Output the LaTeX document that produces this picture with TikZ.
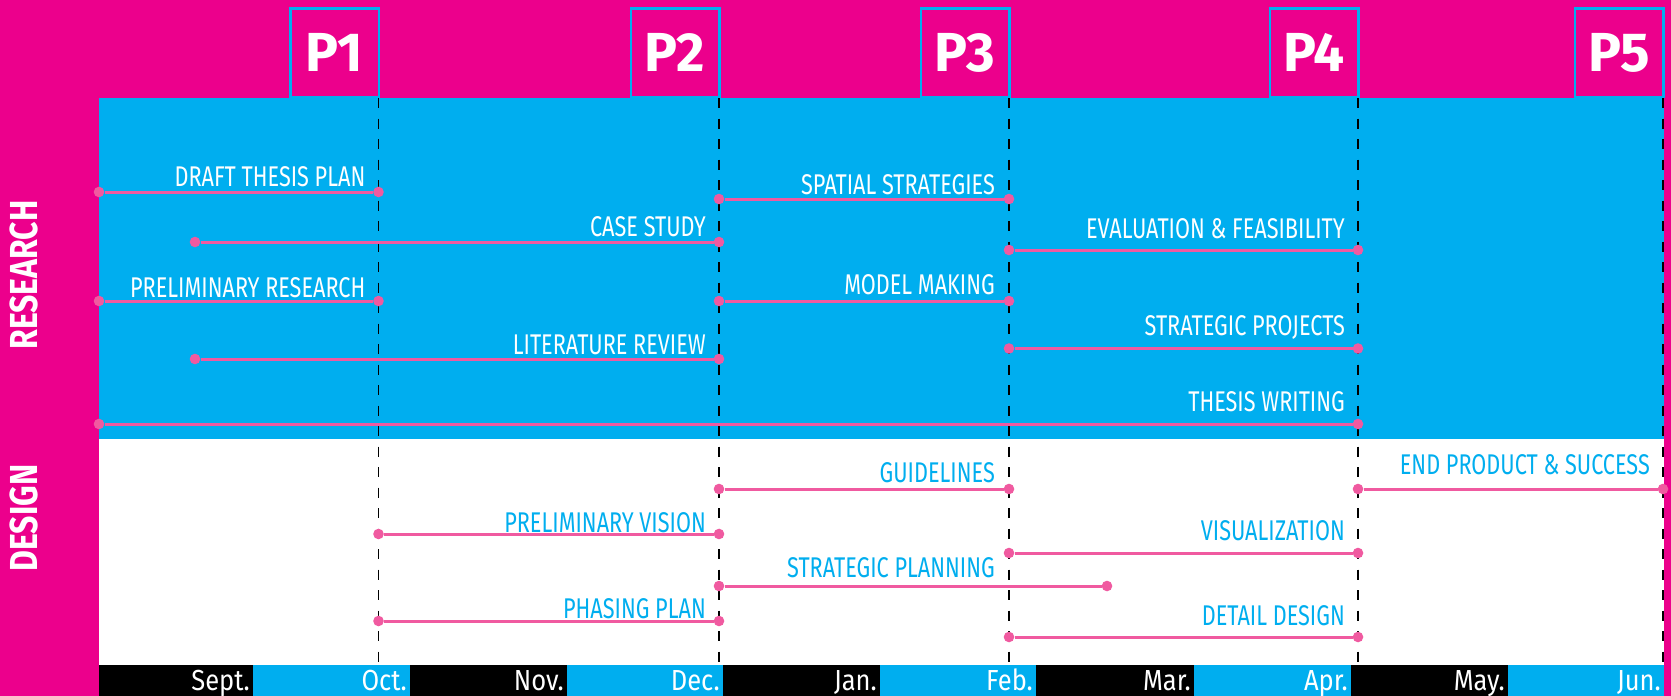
\documentclass[tikz,border=0pt]{standalone}
\usepackage{fontspec}
\setmainfont{Fira Sans}
\newfontfamily\condf{Fira Sans}[FakeStretch=0.76]
\newfontfamily\monf{Fira Sans}[FakeStretch=0.88]
\newfontfamily\boldf{Fira Sans}[FakeStretch=0.82]
\newfontfamily\pf{Fira Sans}
\definecolor{mag}{HTML}{EC008C}
\definecolor{sky}{HTML}{00AEEF}
\definecolor{barpink}{HTML}{F05AA0}
\begin{document}
\begin{tikzpicture}[x=1pt,y=-1pt,
 dotnode/.style={circle,fill=barpink,inner sep=0pt,minimum size=10.6pt},
 bar/.style={draw=barpink,line width=3pt},
 phase/.style={draw=black,line width=1.3pt,dash pattern=on 10pt off 10.5pt},
 pbox/.style={draw=sky,line width=2.5pt,fill=mag,minimum width=88.5pt,minimum height=88.5pt,inner sep=0pt,text=white,font=\pf\bfseries\fontsize{55}{55}\selectfont},
 rlbl/.style={anchor=base east,inner sep=0pt,text=white,font=\condf\fontsize{28.5}{29}\selectfont},
 dlbl/.style={rlbl,text=sky},
 month/.style={anchor=base east,inner sep=0pt,text=white,font=\monf\fontsize{29}{29}\selectfont},
 side/.style={rotate=90,text=white,inner sep=0pt,font=\boldf\bfseries\fontsize{39}{39}\selectfont}
]
\useasboundingbox (0,0) rectangle (1671,696);
\fill[mag] (0,0) rectangle (1671,696);
\fill[sky] (99,98) rectangle (1664,439);
\fill[white] (99,439) rectangle (1664,665);
% months
\foreach \m/\xl/\xr [count=\k from 0] in {Sept./99/253,Oct./253/410,Nov./410/567,Dec./567/723,Jan./723/880,Feb./880/1036,Mar./1036/1194,Apr./1194/1351,May./1351/1508,Jun./1508/1664}{
  \ifodd\k \def\cc{sky}\else\def\cc{black}\fi
  \fill[\cc] (\xl,665) rectangle (\xr,696);
  \node[month] (m\k) at (\xr-3,690) {\m};
}
% side labels
\node[side] (research) at (24,275) {RESEARCH};
\node[side] (design) at (24,518) {DESIGN};
% phases
\foreach \i/\x in {1/378.5,2/719,3/1009,4/1358,5/1663}{
  \node[pbox] (P\i) at (\x-44,52.5) {P\i};
  \coordinate (t\i) at (\x,98);
  \coordinate (u\i) at (\x,665);
  \draw[phase] (t\i) -- (u\i);
}
% tasks
\foreach \i/\t/\y/\xa/\xb/\xl/\bl/\st in {
  1/DRAFT THESIS PLAN/192/99/378.5/365.5/186/rlbl,
  2/CASE STUDY/242/195/719/706/236/rlbl,
  3/PRELIMINARY RESEARCH/301/99/378.5/365.5/297/rlbl,
  4/LITERATURE REVIEW/359/195/719/706/354/rlbl,
  5/THESIS WRITING/424/99/1358/1345/411.5/rlbl,
  6/SPATIAL STRATEGIES/199/719/1009/995/194/rlbl,
  7/EVALUATION \& FEASIBILITY/250/1009/1358/1345/238.5/rlbl,
  8/MODEL MAKING/301/719/1009/995/294/rlbl,
  9/STRATEGIC PROJECTS/348.5/1009/1358/1345/335.5/rlbl,
  10/GUIDELINES/489/719/1009/995/482/dlbl,
  11/END PRODUCT \& SUCCESS/489/1358/1663/1650/474/dlbl,
  12/PRELIMINARY VISION/534/378.5/719/706/532/dlbl,
  13/VISUALIZATION/553/1009/1358/1345/540/dlbl,
  14/STRATEGIC PLANNING/586/719/1107/995/577/dlbl,
  15/PHASING PLAN/621/378.5/719/706/618/dlbl,
  16/DETAIL DESIGN/637/1009/1358/1345/625/dlbl}{
  \node[dotnode] (a\i) at (\xa,\y) {};
  \node[dotnode] (b\i) at (\xb,\y) {};
  \draw[bar] (a\i) -- (b\i);
  \node[\st] (l\i) at (\xl,\bl) {\t};
}
\end{tikzpicture}
\end{document}
